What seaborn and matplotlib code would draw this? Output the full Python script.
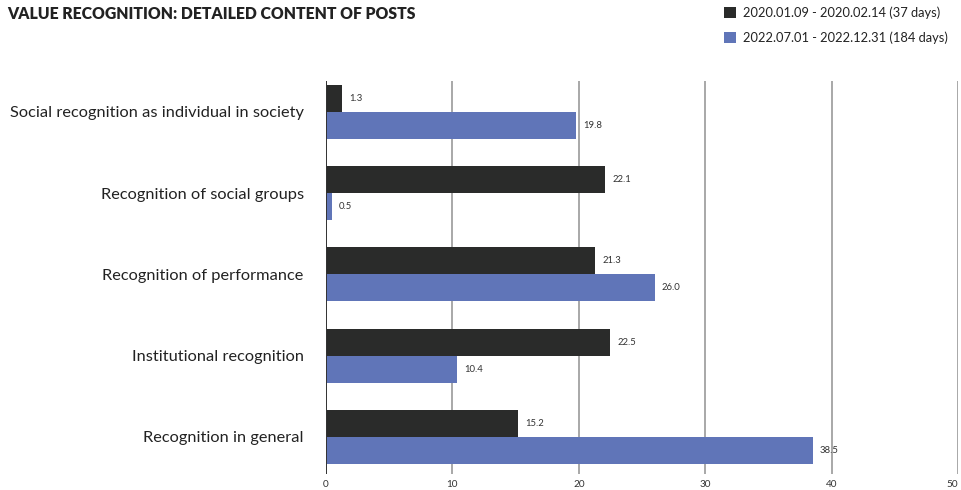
import matplotlib
matplotlib.use("Agg")
import matplotlib.pyplot as plt
import seaborn as sns
import pandas as pd
from matplotlib.patches import Patch

categories = [
    "Social recognition as individual in society",
    "Recognition of social groups",
    "Recognition of performance",
    "Institutional recognition",
    "Recognition in general",
]
periods = ["2020.01.09 - 2020.02.14 (37 days)", "2022.07.01 - 2022.12.31 (184 days)"]
values_2020 = [1.3, 22.1, 21.3, 22.5, 15.2]
values_2022 = [19.8, 0.5, 26.0, 10.4, 38.5]
x_ticks = [0, 10, 20, 30, 40, 50]

colors = ["#2a2b2a", "#6075b8"]

df = pd.DataFrame({
    "category": categories * 2,
    "period": [periods[0]] * len(categories) + [periods[1]] * len(categories),
    "value": values_2020 + values_2022,
})

sns.set_theme(style="white")
plt.rcParams["font.family"] = ["Lato", "DejaVu Sans"]

fig = plt.figure(figsize=(9.61, 4.90), dpi=100)
ax = fig.add_axes([0.3392, 0.0327, 0.6577, 0.802])

sns.barplot(data=df, y="category", x="value", hue="period", order=categories,
            hue_order=periods, palette=colors, orient="h", width=0.665, gap=0,
            dodge=True, saturation=1, legend=False, linewidth=0, ax=ax)

for cont in ax.containers:
    ax.bar_label(cont, fmt="%.1f", padding=5, fontsize=6.8, color="#333333")

ax.set_xlim(0, 50)
ax.set_ylim(4.455, -0.38)
ax.set_xticks(x_ticks)
ax.set_xticklabels([str(t) for t in x_ticks], fontsize=7.2, color="#333333")
# keep the last tick label inside the figure edge
ax.get_xticklabels()[-1].set_horizontalalignment("right")
ax.xaxis.grid(True, color="#9a9a9a", linewidth=1.2)
ax.set_axisbelow(True)
ax.tick_params(axis="x", length=0, pad=4)
ax.tick_params(axis="y", length=0, pad=16, labelsize=11.8, labelcolor="#222222")
ax.set_xlabel("")
ax.set_ylabel("")
for s in ax.spines.values():
    s.set_visible(False)
ax.axvline(0, color="#333333", linewidth=1.4, zorder=3)

fig.text(0.008, 0.972, "VALUE RECOGNITION: DETAILED CONTENT OF POSTS",
         fontsize=11.3, fontweight="heavy", color="#222222", va="center", ha="left")

handles = [Patch(facecolor=c, edgecolor="none") for c in colors]
fig.legend(handles, periods, loc="upper right", bbox_to_anchor=(0.998, 1.01),
           frameon=False, fontsize=9.3, handlelength=0.9, handleheight=0.9,
           handletextpad=0.5, labelspacing=0.95, labelcolor="#222222")

fig.savefig("out.png", dpi=100)
